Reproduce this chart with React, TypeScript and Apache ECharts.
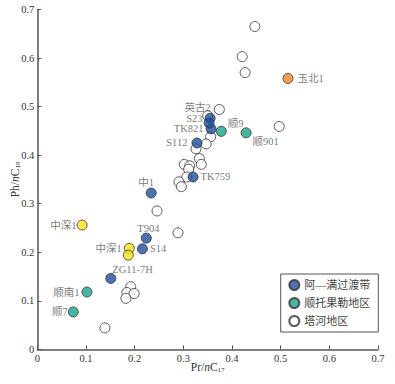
import React, { useEffect, useRef } from "react";
import * as echarts from "echarts";

// ---- data ----
const xTickLabels = ["0", "0.1", "0.2", "0.3", "0.4", "0.5", "0.6", "0.7"];
const yTickLabels = ["0", "0.1", "0.2", "0.3", "0.4", "0.5", "0.6", "0.7"];

// 阿—满过渡带
const amNames = ["中1", "T904", "S14", "ZG11-7H", "TK759", "S112", "TK821", "S23", ""];
const amX = [0.234, 0.224, 0.216, 0.151, 0.32, 0.328, 0.357, 0.355, 0.353];
const amY = [0.322, 0.229, 0.207, 0.146, 0.355, 0.425, 0.454, 0.476, 0.466];

// 顺托果勒地区
const stNames = ["顺9", "顺901", "顺南1", "顺7"];
const stX = [0.378, 0.429, 0.102, 0.074];
const stY = [0.449, 0.446, 0.118, 0.077];

// 塔河地区
const thNames = ["", "", "", "英古2", "", "", "", "", "", "", "", "", "", "", "", "", "", "", "", "", "", "", "", ""];
const thX = [0.447, 0.421, 0.427, 0.374, 0.497, 0.35, 0.356, 0.347, 0.326, 0.333, 0.337, 0.302, 0.313, 0.311, 0.307, 0.291, 0.296, 0.246, 0.289, 0.192, 0.184, 0.199, 0.182, 0.139];
const thY = [0.665, 0.603, 0.57, 0.494, 0.459, 0.481, 0.438, 0.423, 0.413, 0.393, 0.381, 0.381, 0.378, 0.371, 0.355, 0.345, 0.335, 0.285, 0.24, 0.129, 0.117, 0.115, 0.105, 0.044];

// 中深1 (yellow)
const zsNames = ["中深1", "中深1", ""];
const zsX = [0.092, 0.189, 0.187];
const zsY = [0.256, 0.208, 0.194];

// 玉北1 (orange)
const ybNames = ["玉北1"];
const ybX = [0.515];
const ybY = [0.558];

const legendNames = ["阿—满过渡带", "顺托果勒地区", "塔河地区"];

// ---- label placement (styles) ----
const amLabelPos: any[] = [
  { position: "top", distance: 0, offset: [-5, 0] },
  { position: "top", distance: 0, offset: [2, 1] },
  { position: "right", distance: 2 },
  { position: "right", distance: 5, offset: [-9, -9] },
  { position: "right", distance: 2 },
  { position: "left", distance: 4 },
  { position: "left", distance: 2 },
  { position: "left", distance: 2 },
  {},
];
const stLabelPos: any[] = [
  { position: "right", distance: 1, offset: [0, -8] },
  { position: "right", distance: 1, offset: [0, 9] },
  { position: "left", distance: 2 },
  { position: "left", distance: 0 },
];
const thLabelPos: any = { position: "left", distance: 3, offset: [0, -2] };
const zsLabelPos: any[] = [
  { position: "left", distance: 0 },
  { position: "left", distance: 2 },
  {},
];
const ybLabelPos: any[] = [{ position: "right", distance: 4 }];

const FONT = "'Liberation Serif', 'Noto Sans CJK SC', serif";
const labelBase = { fontFamily: FONT, fontSize: 10.5, color: "#555" };

function buildData(xs: number[], ys: number[], names: string[], pos: (i: number) => any) {
  return xs.map((x, i) => {
    const item: any = { value: [x, ys[i]] };
    if (names[i]) {
      item.label = { show: true, formatter: names[i], ...labelBase, ...pos(i) };
    }
    return item;
  });
}

export default function App() {
  const ref = useRef<HTMLDivElement>(null);
  useEffect(() => {
    if (!ref.current) return;
    const chart = echarts.init(ref.current, undefined, { renderer: "svg" });
    const axisCommon = {
      type: "value",
      min: 0,
      max: 0.7,
      interval: 0.1,
      nameLocation: "middle",
      nameMoveOverlap: false,
      axisLine: { show: true, lineStyle: { color: "#555", width: 1.5 } },
      axisTick: { show: true, inside: true, length: 4, lineStyle: { color: "#555", width: 1 } },
      splitLine: { show: false },
    };
    const nameStyle = {
      fontFamily: FONT,
      fontSize: 11,
      color: "#333",
      rich: {
        a: { fontFamily: FONT, fontSize: 11.5, color: "#333" },
        i: { fontFamily: FONT, fontSize: 11.5, color: "#333", fontStyle: "italic" },
        s: { fontFamily: FONT, fontSize: 7, color: "#333", verticalAlign: "bottom", padding: [5, 0, 0, 0] },
      },
    };
    const border = { borderColor: "#333", borderWidth: 1 };
    const option: any = {
      animation: false,
      grid: { left: 37.3, right: 17, top: 9.5, bottom: 34.7, outerBoundsMode: "none", containLabel: false },
      xAxis: {
        ...axisCommon,
        name: "{a|Pr/}{i|n}{a|C}{s|17}",
        nameGap: 12,
        nameTextStyle: nameStyle,
        axisLabel: {
          margin: 4,
          fontFamily: FONT,
          fontSize: 10.5,
          color: "#333",
          formatter: (v: number) => xTickLabels[Math.round(v * 10)],
        },
      },
      yAxis: {
        ...axisCommon,
        name: "{a|Ph/}{i|n}{a|C}{s|18}",
        nameGap: 16,
        nameTextStyle: nameStyle,
        axisLabel: {
          margin: 3,
          fontFamily: FONT,
          fontSize: 10.5,
          color: "#333",
          formatter: (v: number) => yTickLabels[Math.round(v * 10)],
        },
      },
      legend: {
        data: legendNames,
        orient: "vertical",
        left: 280.7,
        top: 274,
        padding: [5, 8, 5, 7.6],
        itemGap: 6,
        itemWidth: 10,
        itemHeight: 10,
        icon: "circle",
        borderColor: "#555",
        borderWidth: 1,
        backgroundColor: "#fff",
        textStyle: { fontFamily: FONT, fontSize: 11, color: "#444", lineHeight: 12 },
      },
      series: [
        {
          type: "scatter",
          name: legendNames[2],
          symbolSize: 10,
          itemStyle: { color: "#fff", ...border },
          data: buildData(thX, thY, thNames, () => thLabelPos),
          z: 2,
        },
        {
          type: "scatter",
          name: legendNames[0],
          symbolSize: 10,
          itemStyle: { color: "#1f4f9f", ...border },
          data: buildData(amX, amY, amNames, (i) => amLabelPos[i]),
          z: 3,
        },
        {
          type: "scatter",
          name: legendNames[1],
          symbolSize: 10,
          itemStyle: { color: "#1aa38a", ...border },
          data: buildData(stX, stY, stNames, (i) => stLabelPos[i]),
          z: 3,
        },
        {
          type: "scatter",
          name: "中深1",
          symbolSize: 10,
          itemStyle: { color: "#f7e11b", ...border },
          data: buildData(zsX, zsY, zsNames, (i) => zsLabelPos[i]),
          z: 3,
        },
        {
          type: "scatter",
          name: "玉北1",
          symbolSize: 10,
          itemStyle: { color: "#f08a24", ...border },
          data: buildData(ybX, ybY, ybNames, (i) => ybLabelPos[i]),
          z: 3,
        },
      ],
    };
    chart.setOption(option);
    return () => chart.dispose();
  }, []);
  return (
    <div
      ref={ref}
      style={{ position: "fixed", left: 0, top: 0, width: 395, height: 384, background: "#fff" }}
    />
  );
}
